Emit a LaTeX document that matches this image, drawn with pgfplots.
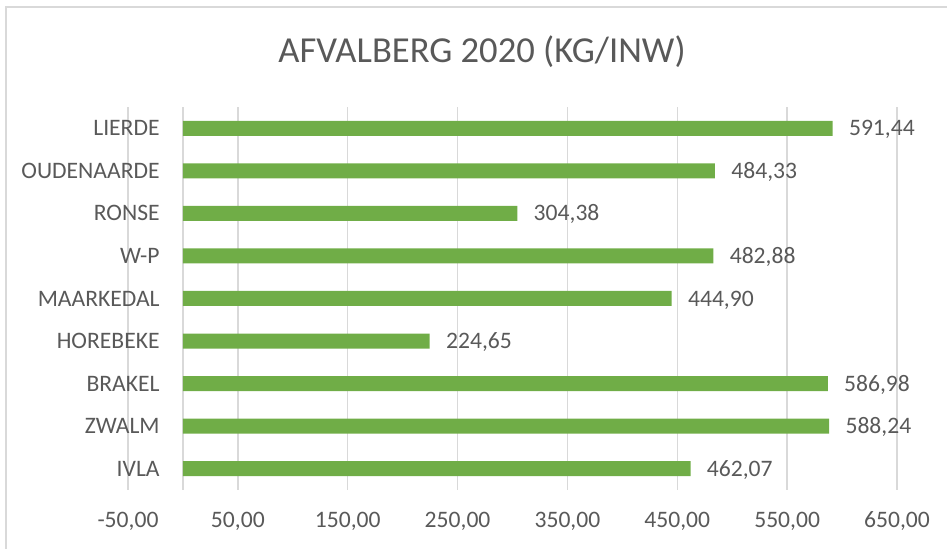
\documentclass[border=0pt]{standalone}
\usepackage{fontspec}
\setmainfont{Carlito}
\usepackage{pgfplots}
\pgfplotsset{compat=1.18}

\definecolor{bargreen}{HTML}{70AD47}
\definecolor{txtgray}{HTML}{595959}
\definecolor{gridgray}{HTML}{D9D9D9}

\begin{document}
\begin{tikzpicture}
  % chart border
  \draw[gridgray, line width=0.6pt] (3pt,-5pt) rectangle (480pt,271pt);
  \node[anchor=base, font=\fontsize{18.3}{22}\selectfont, text=txtgray, inner sep=0]
    at (241pt,243pt) {AFVALBERG 2020 (KG/INW)};
  \begin{axis}[
    at={(64pt,29.5pt)}, anchor=south west,
    scale only axis,
    width=384.5pt, height=191.5pt,
    xbar, bar width=7.5pt,
    xmin=-50, xmax=650,
    ymin=-0.5, ymax=8.5,
    xtick={-50,50,...,650},
    extra x ticks={0}, extra x tick labels={},
    extra x tick style={grid=major},
    ytick={0,...,8},
    yticklabels={IVLA,ZWALM,BRAKEL,HOREBEKE,MAARKEDAL,W-P,RONSE,OUDENAARDE,LIERDE},
    xmajorgrids, major grid style={gridgray, line width=0.75pt},
    axis line style={draw=none},
    major tick length=0pt,
    tick label style={font=\fontsize{11.8}{14}\selectfont, text=txtgray, inner sep=0pt},
    xticklabel style={anchor=base, yshift=-19pt},
    yticklabel style={anchor=base east, xshift=16pt, yshift=-3.8pt},
    /pgf/number format/.cd, fixed, fixed zerofill, precision=2, use comma, 1000 sep={},
      assume math mode=true,
    /pgfplots/.cd,
    nodes near coords,
    every node near coord/.style={anchor=base west, inner sep=0pt, xshift=8pt, yshift=-3.8pt,
      font=\fontsize{11.8}{14}\selectfont, text=txtgray},
  ]
    \addplot[fill=bargreen, draw=none] coordinates {
      (462.07,0)
      (588.24,1)
      (586.98,2)
      (224.65,3)
      (444.90,4)
      (482.88,5)
      (304.38,6)
      (484.33,7)
      (591.44,8)
    };
  \end{axis}
  \pgfresetboundingbox
  \path[use as bounding box] (0,0) rectangle (473.5pt,274.5pt);
\end{tikzpicture}
\end{document}
